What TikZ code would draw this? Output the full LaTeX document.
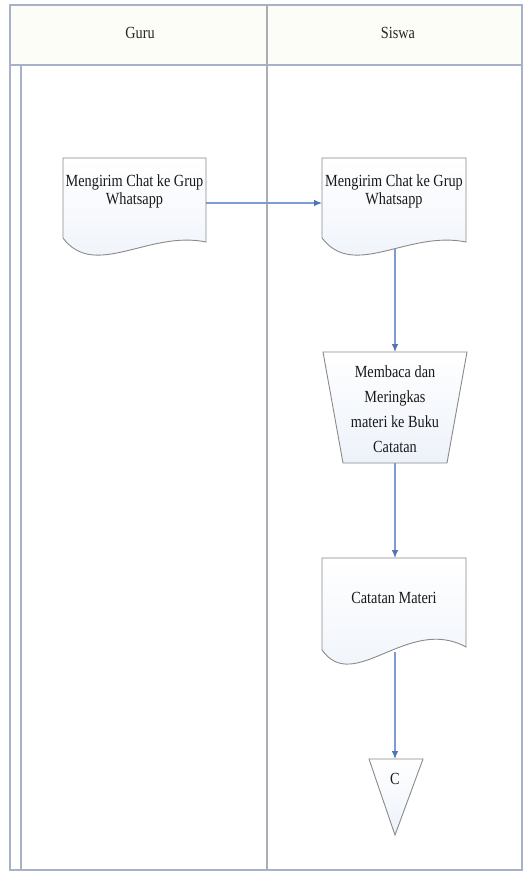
\documentclass[tikz,border=0pt]{standalone}
\usepackage{fontspec}
\setmainfont{Liberation Serif}[FakeStretch=0.84]
\usetikzlibrary{arrows.meta}
\definecolor{frameblue}{HTML}{A7B2C9}
\definecolor{divgray}{HTML}{ABADB5}
\definecolor{linkblue}{HTML}{7D9DD2}
\definecolor{tipblue}{HTML}{4F74B8}
\definecolor{shapegray}{HTML}{8A8A8A}
\definecolor{shapefill}{HTML}{EDF2FA}
\definecolor{headfill}{HTML}{FCFDF7}
\tikzset{
  lane/.style={draw=frameblue, line width=1.6bp},
  divider/.style={draw=divgray, line width=1.8bp},
  fshape/.style={draw=shapegray, line width=0.9bp, top color=white, bottom color=shapefill},
  link/.style={draw=linkblue, line width=1.1bp, -{Latex[length=8bp,width=6.5bp,fill=tipblue,color=tipblue]}},
  lbl/.style={font=\fontsize{17bp}{18bp}\selectfont, align=center, inner sep=0pt, text=black!90},
  hdr/.style={font=\fontsize{17bp}{18bp}\selectfont, inner sep=0pt, text=black!85}
}
\begin{document}
\begin{tikzpicture}[x=1bp,y=-1bp]
\useasboundingbox (0,0) rectangle (524,874);
\fill[white] (0,0) rectangle (524,874);
% header band
\fill[headfill] (10,5) rectangle (522,65);
% pool frame
\draw[lane] (10,5) rectangle (522,870);
\draw[lane] (10,65) -- (522,65);
\draw[lane] (21,65) -- (21,870);
\draw[divider] (267,5) -- (267,870);
% header labels
\node[hdr] (hguru) at (140,33) {Guru};
\node[hdr] (hsiswa) at (398,33) {Siswa};

% connection coordinates
\coordinate (d1r) at (206,203);
\coordinate (d2l) at (322,203);
\coordinate (d2b) at (395,246);
\coordinate (trt) at (395,352);
\coordinate (trb) at (395,463);
\coordinate (d3t) at (395,558);
\coordinate (d3b) at (395,652);
\coordinate (tit) at (395,759);

% connectors (drawn first, shapes cover their tails)
\draw[link] (d1r) -- (d2l);
\draw[link] (d2b) -- (trt);
\draw[link] (trb) -- (d3t);
\draw[link] (d3b) -- (tit);

% document 1 (Guru)
\path[fshape] (63,158) -- (206,158) -- (206,242)
  .. controls (149,230) and (94.5,280) .. (63,238) -- cycle;
% document 2 (Siswa)
\path[fshape] (322,158) -- (466,158) -- (466,242)
  .. controls (408,230) and (354,280) .. (322,238) -- cycle;
% trapezoid (manual operation)
\path[fshape] (323,352) -- (467,352) -- (447,463) -- (343,463) -- cycle;
% document 3
\path[fshape] (322,558) -- (466,558) -- (466,647)
  .. controls (408,615) and (354,695) .. (322,650) -- cycle;
% off-page connector triangle
\path[fshape] (369,759) -- (423,759) -- (395,835) -- cycle;

% texts
\node[lbl] (doc1) at (134.5,191) {Mengirim Chat ke Grup\\Whatsapp};
\node[lbl] (doc2) at (394,191) {Mengirim Chat ke Grup\\Whatsapp};
\node[lbl, font=\fontsize{17bp}{25bp}\selectfont] (manual) at (395,409)
  {Membaca dan\\Meringkas\\materi ke Buku\\Catatan};
\node[lbl] (doc3) at (394,598) {Catatan Materi};
\node[lbl] (conn) at (395,779) {C};
\end{tikzpicture}
\end{document}
